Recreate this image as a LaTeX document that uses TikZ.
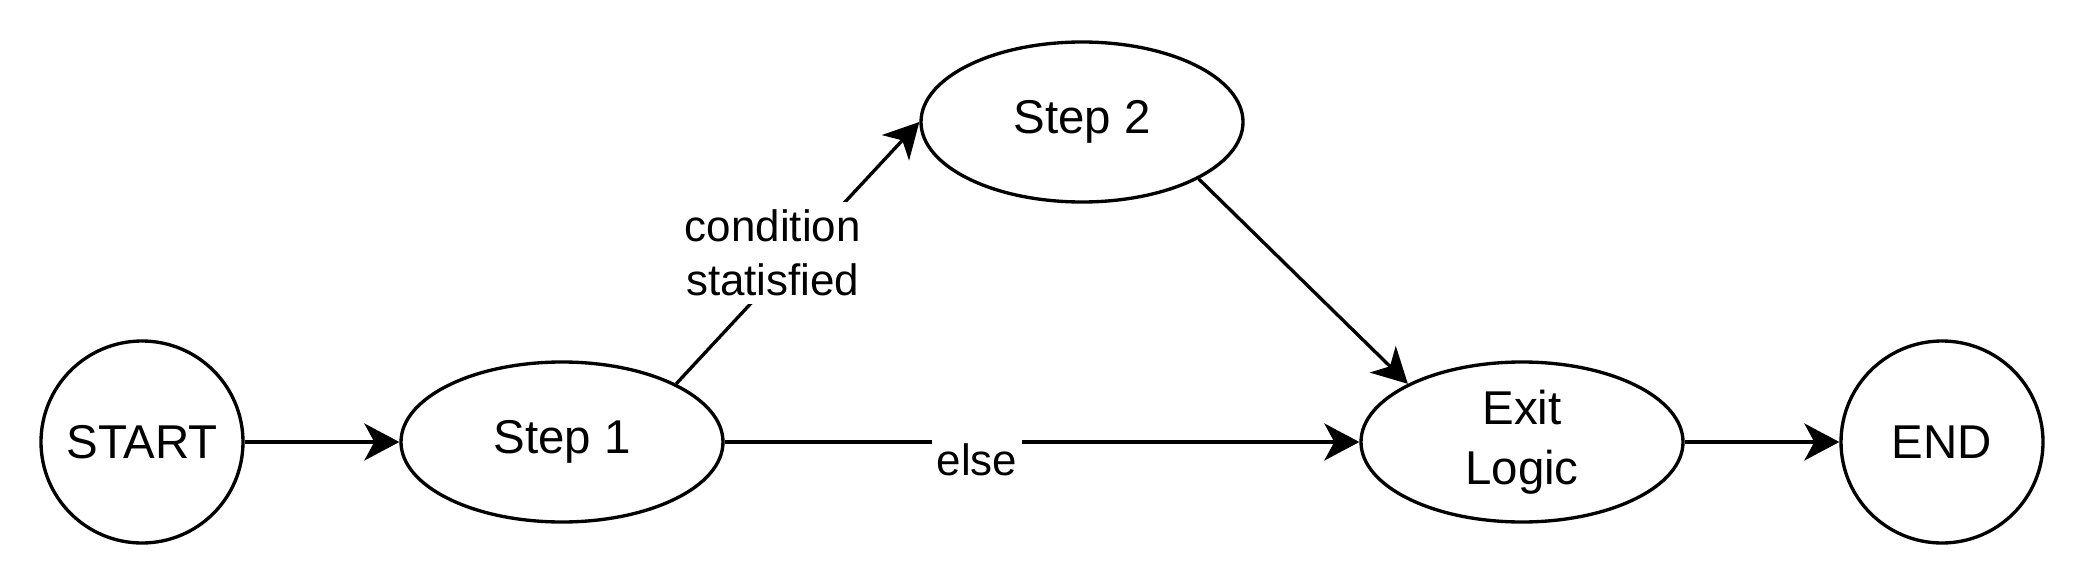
\documentclass[tikz,border=0pt]{standalone}
\usepackage{fontspec}
\setmainfont{Liberation Sans}
\usetikzlibrary{shapes.geometric,arrows.meta}

\begin{document}
\begin{tikzpicture}[
    terminal/.style={draw, circle, line width=1.9pt, minimum size=4.04cm, inner sep=0pt, font=\fontsize{27}{33}\selectfont},
    stepnode/.style={draw, ellipse, line width=1.9pt, minimum width=6.44cm, minimum height=3.2cm, inner sep=0pt, align=center, font=\fontsize{27}{34}\selectfont},
    flow/.style={line width=1.9pt, -{Stealth[length=0.7cm, width=0.74cm, inset=0.2cm]}},
    edgelabel/.style={fill=white, align=center, inner xsep=0.1cm, inner ysep=0.2cm, font=\fontsize{25}{31}\selectfont}
]
    \useasboundingbox (0,0) rectangle (41.68,11.68);
    % states
    \node[terminal] (start) at (2.84,2.84) {START};
    \node[stepnode] (step1) at (11.24,2.84) {Step 1};
    \node[stepnode] (step2) at (21.64,9.24) {Step 2};
    \node[stepnode] (exit) at (30.44,2.84) {Exit\\Logic};
    \node[terminal] (end) at (38.84,2.84) {END};
    % transitions
    \draw[flow] (start) -- (step1);
    \draw[flow] (step1.27) -- node[edgelabel, inner ysep=0.15cm, xshift=-0.5cm] {condition\\statisfied} (step2.west);
    \draw[flow] (step1) -- node[edgelabel, xshift=-1.3cm, yshift=-0.35cm] {else} (exit);
    \draw[flow] (step2.-26) -- (exit.153);
    \draw[flow] (exit) -- (end);
\end{tikzpicture}
\end{document}
